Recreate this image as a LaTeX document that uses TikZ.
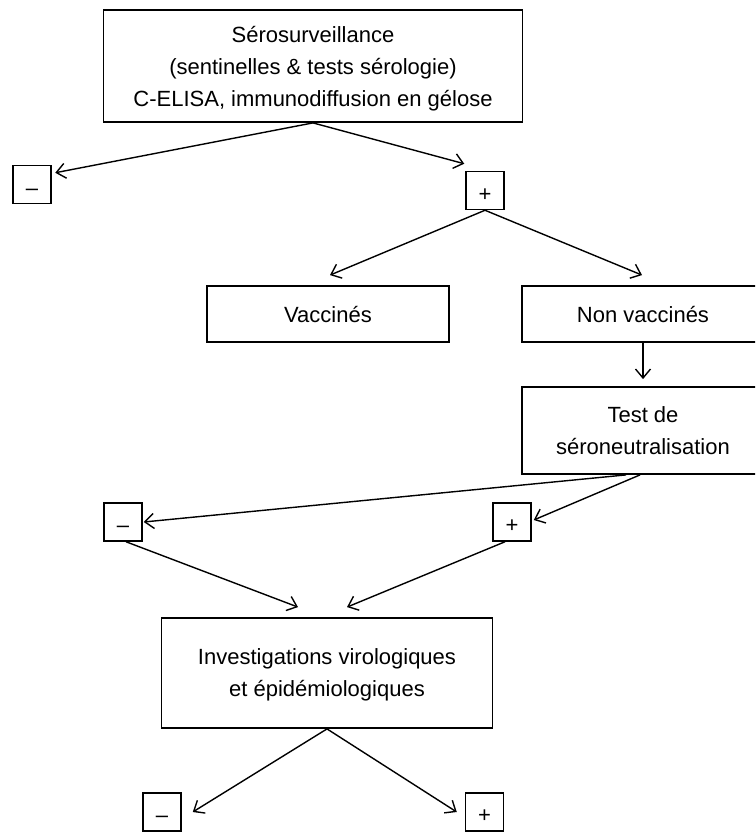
\documentclass[tikz,border=0pt]{standalone}
\usepackage{fontspec}
\setmainfont{Liberation Sans}
\usetikzlibrary{arrows.meta, calc}

\begin{document}
\begin{tikzpicture}[x=1pt, y=-1pt, >={Straight Barb[length=9pt, width=15pt]},
  box/.style={draw, line width=1.8pt, align=center, inner sep=0pt,
    text depth=0pt, font=\fontsize{22}{32}\selectfont},
  sign/.style={draw, line width=1.5pt, minimum size=38pt, inner sep=0pt,
    text height=21pt, text depth=0pt, font=\fontsize{22}{22}\selectfont},
  arr/.style={->, line width=1.4pt}]

% Frame
\useasboundingbox (0,0) rectangle (755,832);
\clip (0,0) rectangle (755,832);

% --- Boxes ---
\node[box, minimum width=419pt, minimum height=112pt] (sero) at (313,66)
  {Sérosurveillance\\(sentinelles \& tests sérologie)\\C-ELISA, immunodiffusion en gélose};

\node[sign] (neg1) at (32,184.5) {–};
\node[sign] (pos1) at (485,190.5) {+};

\node[box, minimum width=242pt, minimum height=56pt] (vacc) at (328,314) {Vaccinés};
\node[box, minimum width=242pt, minimum height=56pt] (nonvacc) at (643,314) {Non vaccinés};

\node[box, minimum width=242pt, minimum height=87pt] (sneut) at (643,430.5)
  {Test de\\séroneutralisation};

\node[sign] (neg2) at (123,522) {–};
\node[sign] (pos2) at (512,522) {+};

\node[box, minimum width=331pt, minimum height=110pt] (invest) at (327,673)
  {Investigations virologiques\\et épidémiologiques};

\node[sign] (neg3) at (162,812) {–};
\node[sign] (pos3) at (484.5,812) {+};

% --- Arrows ---
\draw[arr] (sero.south) -- ([shift={(3.5,8)}]neg1.north east);
\draw[arr] (sero.south) -- ([shift={(-1,-7)}]pos1.north west);

\draw[arr] (pos1.south) -- ([shift={(2,-10)}]vacc.north);
\draw[arr] (pos1.south) -- ([shift={(-1,-10)}]nonvacc.north);

\draw[arr, shorten >=7pt] (nonvacc.south) -- (sneut.north);

\draw[arr] ([shift={(-17,0)}]sneut.south) -- ([shift={(1,0)}]neg2.east);
\draw[arr] ([shift={(-3,0)}]sneut.south) -- ([shift={(2,-2)}]pos2.east);

\draw[arr] ([shift={(3,0)}]neg2.south) -- ([shift={(-29,-10)}]invest.north);
\draw[arr] ([shift={(-7,0)}]pos2.south) -- ([shift={(20,-10)}]invest.north);

\draw[arr] (invest.south) -- ([shift={(11,0)}]neg3.east);
\draw[arr] (invest.south) -- ([shift={(-8,0)}]pos3.west);

\end{tikzpicture}
\end{document}
